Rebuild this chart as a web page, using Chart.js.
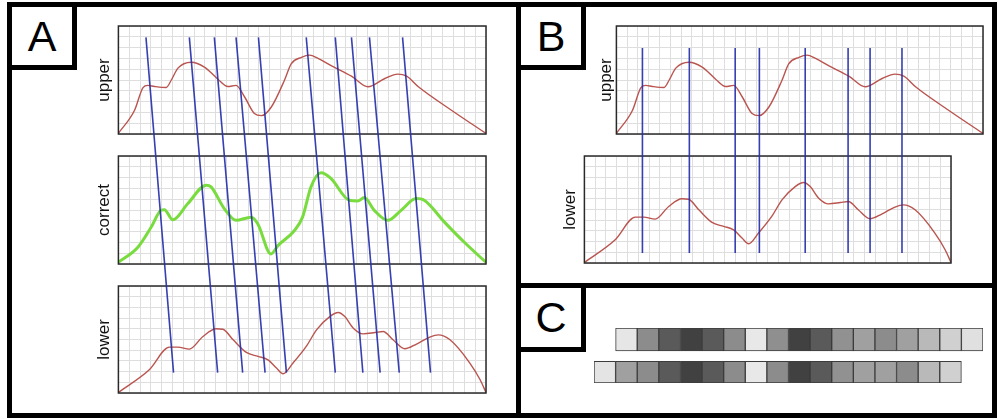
<!DOCTYPE html>
<html>
<head>
<meta charset="utf-8">
<script src="https://cdn.jsdelivr.net/npm/chart.js@4.4.1/dist/chart.umd.min.js"></script>
<style>
  html, body { margin: 0; padding: 0; background: #fff; }
  #page { position: relative; width: 998px; height: 419px; overflow: hidden; background: #fff;
          font-family: 'Liberation Sans', Arial, sans-serif; }
  canvas { position: absolute; }
  .frame { position: absolute; box-sizing: border-box; border: 5px solid #000; }
  .rule { position: absolute; background: #000; }
  .tag { position: absolute; box-sizing: border-box; border: 5px solid #000; background: #fff;
         display: flex; align-items: center; justify-content: center; font-size: 43px; color: #000; }
</style>
</head>
<body>
<div id="page">
  <div class="frame" style="left:7px;top:2px;width:990px;height:416px;"></div>
  <div class="rule" style="left:516px;top:2px;width:5px;height:416px;"></div>
  <div class="rule" style="left:516px;top:283px;width:481px;height:5px;"></div>
  <div class="tag" style="left:7px;top:2px;width:70px;height:68px;">A</div>
  <div class="tag" style="left:516px;top:2px;width:70px;height:68px;">B</div>
  <div class="tag" style="left:516px;top:283px;width:70px;height:69px;">C</div>

  <canvas id="aUpper" width="398" height="112" style="left:90px;top:24px;"></canvas>
  <canvas id="aCorrect" width="398" height="112" style="left:90px;top:154px;"></canvas>
  <canvas id="aLower" width="398" height="111" style="left:90px;top:284px;"></canvas>
  <canvas id="bUpper" width="393" height="112" style="left:592px;top:24px;"></canvas>
  <canvas id="bLower" width="397" height="111" style="left:556px;top:154px;"></canvas>
  <canvas id="cCells" width="391" height="57" style="left:593px;top:327px;"></canvas>
  <canvas id="links" width="998" height="419" style="left:0;top:0;pointer-events:none;"></canvas>
</div>
<script>
// traces (x and y both on a 0-100 scale)
const upperX = [0, 4.4, 6.7, 8.0, 9.8, 13, 14.4, 16.2, 19.8, 23.4, 27, 29.8, 32, 34.3, 37, 38.9, 41.6, 45.2, 47, 49.8, 52, 54.3, 58, 63.4, 67.9, 72.5, 76, 78.4, 81.6, 90.6, 100];
const upperY = [0.6, 22, 43, 45, 44, 43, 50, 61, 66.5, 62, 51, 44, 45, 34.5, 19, 17, 25, 50, 65, 71, 73, 70, 63, 53.5, 43.7, 51.4, 55.4, 53.5, 43.7, 22, 0.5];

const lowerX = [0, 8.4, 13.9, 16.2, 19.3, 23, 26.6, 28.4, 31.2, 34.8, 38, 40.7, 43, 44.8, 47.5, 51.1, 53.9, 57.5, 59.8, 61.6, 63.9, 66.6, 69.8, 72, 74.7, 77.9, 81.1, 84.7, 87, 90.2, 95.6, 98.4, 100];
const lowerY = [0.5, 21.7, 42.9, 42.9, 41, 52.8, 60, 59.6, 49.7, 37.9, 34.2, 31, 23.3, 18, 28, 43.5, 59, 71.4, 75.2, 71.4, 60.6, 55.3, 56.5, 57.5, 49.7, 41.3, 45.7, 52.2, 54.3, 49.7, 28, 12.4, 0.5];

const correctX = [0, 5.3, 8.9, 11.6, 12.5, 14.8, 18.9, 23.9, 25.2, 28.8, 32, 36.1, 37.9, 41.5, 43.4, 47.9, 50.1, 52.4, 55.1, 57.8, 62.8, 65.1, 66.9, 69.6, 73.3, 76.9, 81, 83.2, 88.7, 94.1, 100];
const correctY = [1.5, 15.5, 34, 49.7, 50.3, 41, 56, 73, 71.4, 51.3, 40.4, 43.4, 37.3, 9.3, 17, 31, 43.4, 71.4, 84.4, 79.2, 59, 58.3, 61.5, 49.7, 40.4, 49.7, 60.6, 59, 38.8, 20.1, 1.5];

// matching lines: panel A (slanted) and panel B (vertical)
const linkUpperA = [7.5, 19.3, 26.1, 32.0, 38.1, 51.1, 59.0, 63.4, 68.3, 77.3];
const linkLowerA = [15.0, 27.0, 33.8, 39.9, 45.7, 59.0, 66.5, 71.2, 76.4, 84.9];
const linkTopA = 89.5;   // upper y units
const linkEndA = 19;     // lower y units
const linkUpperB = [7.1, 19.9, 32.4, 39.0, 51.5, 63.2, 69.2, 77.9];
const linkTopB = 79.6;
const linkEndB = 9.3;

// panel C grey levels (0 = black, 255 = white)
const cellSlots = ['0', '1', '2', '3', '4', '5', '6', '7', '8', '9', '10', '11', '12', '13', '14', '15', '16', '17'];
const cellsTop = [230, 140, 90, 65, 90, 140, 232, 143, 65, 90, 145, 160, 140, 160, 185, 208, 224];
const cellsBottom = [228, 160, 140, 90, 65, 90, 140, 232, 140, 65, 90, 145, 160, 160, 140, 185, 208];

const FONT = "'Liberation Sans', Arial, sans-serif";
const RED = '#b9544f';
const GREEN = '#79dc3e';
const BLUE = 'rgba(38, 48, 170, 0.92)';

function pts(xs, ys) {
  return xs.map((x, i) => ({ x: x, y: ys[i] }));
}

function evenTicks(n) {
  return function (scale) {
    const t = [];
    for (let i = 0; i <= n; i++) t.push({ value: scale.min + (scale.max - scale.min) * i / n });
    scale.ticks = t;
  };
}

const framePlugin = {
  id: 'frame',
  afterDatasetsDraw(chart) {
    const a = chart.chartArea;
    const ctx = chart.ctx;
    ctx.save();
    ctx.strokeStyle = '#2a2a2a';
    ctx.lineWidth = 1.5;
    ctx.strokeRect(a.left, a.top, a.right - a.left, a.bottom - a.top);
    ctx.restore();
  }
};

function traceChart(id, xs, ys, title, color, width, padBottom) {
  return new Chart(document.getElementById(id), {
    type: 'line',
    data: {
      datasets: [{
        data: pts(xs, ys),
        borderColor: color,
        borderWidth: width,
        pointRadius: 0,
        fill: false,
        cubicInterpolationMode: 'monotone'
      }]
    },
    options: {
      responsive: false,
      animation: false,
      events: [],
      layout: { padding: { top: 2, right: 2, bottom: 2, left: 0 } },
      plugins: { legend: { display: false }, tooltip: { enabled: false } },
      scales: {
        x: {
          type: 'linear', min: 0, max: 100,
          afterBuildTicks: evenTicks(34),
          ticks: { display: false },
          grid: { color: '#dedede', drawTicks: false },
          border: { display: false }
        },
        y: {
          min: 0, max: 100,
          afterBuildTicks: evenTicks(10),
          ticks: { display: false },
          grid: { color: '#dedede', drawTicks: false },
          border: { display: false },
          title: {
            display: true, text: title, color: '#111',
            font: { family: FONT, size: 17 },
            padding: { top: 4, bottom: padBottom }
          }
        }
      }
    },
    plugins: [framePlugin]
  });
}

const aUpper = traceChart('aUpper', upperX, upperY, 'upper', RED, 1.4, 4);
const aCorrect = traceChart('aCorrect', correctX, correctY, 'correct', GREEN, 3, 4);
const aLower = traceChart('aLower', lowerX, lowerY, 'lower', RED, 1.4, 4);
const bUpper = traceChart('bUpper', upperX, upperY, 'upper', RED, 1.4, 0);
const bLower = traceChart('bLower', lowerX, lowerY, 'lower', RED, 1.4, 4);

// panel C: two rows of grey cells, the lower row shifted one slot left
function grey(v) { return 'rgb(' + v + ',' + v + ',' + v + ')'; }
const topRow = [null].concat(cellsTop.map(() => [1.4, 2.4]));
const bottomRow = cellsBottom.map(() => [0, 0.95]).concat([null]);
new Chart(document.getElementById('cCells'), {
  type: 'bar',
  data: {
    labels: cellSlots,
    datasets: [
      { data: topRow, backgroundColor: ['#fff'].concat(cellsTop.map(grey)) },
      { data: bottomRow, backgroundColor: cellsBottom.map(grey).concat(['#fff']) }
    ]
  },
  options: {
    responsive: false,
    animation: false,
    events: [],
    layout: { padding: 1 },
    datasets: {
      bar: {
        grouped: false, barPercentage: 1, categoryPercentage: 1,
        borderColor: '#3c3c3c', borderWidth: 1, borderSkipped: false
      }
    },
    plugins: { legend: { display: false }, tooltip: { enabled: false } },
    scales: {
      x: { display: false },
      y: { display: false, min: 0, max: 2.4 }
    }
  }
});

// overlay: matching lines placed with the trace charts' own scales
function pagePoint(chart, xv, yv) {
  const c = chart.canvas;
  return { x: c.offsetLeft + chart.scales.x.getPixelForValue(xv), y: c.offsetTop + chart.scales.y.getPixelForValue(yv) };
}
const linkSets = [];
linkUpperA.forEach((u, i) => {
  linkSets.push([pagePoint(aUpper, u, linkTopA), pagePoint(aLower, linkLowerA[i], linkEndA)]);
});
linkUpperB.forEach(u => {
  const top = pagePoint(bUpper, u, linkTopB);
  const end = pagePoint(bLower, 0, linkEndB);
  linkSets.push([top, { x: top.x, y: end.y }]);
});
new Chart(document.getElementById('links'), {
  type: 'scatter',
  data: {
    datasets: linkSets.map(d => ({
      data: d, showLine: true, borderColor: BLUE, borderWidth: 1.6, pointRadius: 0
    }))
  },
  options: {
    responsive: false,
    animation: false,
    events: [],
    layout: { padding: 0 },
    plugins: { legend: { display: false }, tooltip: { enabled: false } },
    scales: {
      x: { display: false, min: 0, max: 998 },
      y: { display: false, min: 0, max: 419, reverse: true }
    }
  }
});
</script>
</body>
</html>
